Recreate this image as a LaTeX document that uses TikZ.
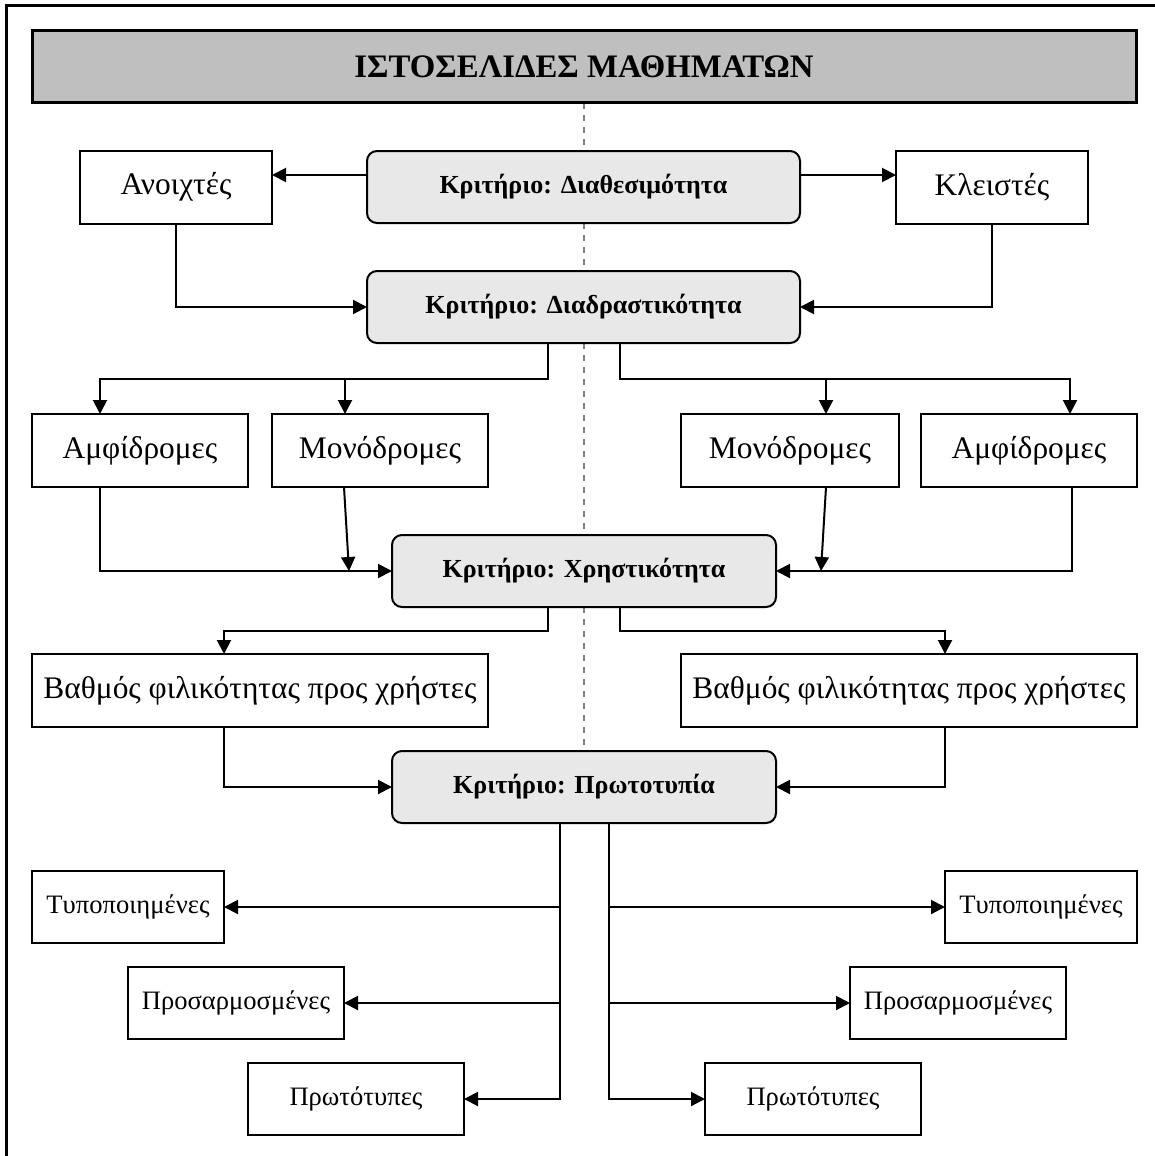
\documentclass[tikz,border=0pt]{standalone}
\usepackage{fontspec}
\setmainfont{Liberation Serif}
\usetikzlibrary{arrows.meta,backgrounds}

\begin{document}
\begin{tikzpicture}[x=0.5pt, y=-0.5pt,
  every node/.style={align=center, inner sep=0pt, outer sep=0pt, line width=1pt},
  title/.style={draw, line width=1.5pt, fill=black!25, minimum width=552pt, minimum height=36pt, font=\fontsize{16.4}{19}\selectfont\bfseries},
  crit/.style={draw, fill=black!9, rounded corners=5pt, minimum height=36pt, font=\fontsize{13}{15}\selectfont\bfseries},
  leaf/.style={draw, fill=white, minimum height=36.5pt, font=\fontsize{15.7}{18}\selectfont},
  minor/.style={draw, fill=white, minimum height=36pt, font=\fontsize{13.3}{15}\selectfont},
  arr/.style={-{Triangle[length=7pt,width=7pt]}, line width=1pt},
  guide/.style={gray, line width=0.75pt, dash pattern=on 3pt off 3pt}]
\useasboundingbox (0,0) rectangle (1155,1156);
\draw[line width=1.5pt] (6,1170) -- (6,6) -- (1170,6);

\node[title] (web) at (584,67) {ΙΣΤΟΣΕΛΙΔΕΣ ΜΑΘΗΜΑΤΩΝ};

\node[crit, minimum width=216.5pt] (avail) at (583.5,187) {Κριτήριο: Διαθεσιμότητα};
\node[leaf, minimum width=96pt] (open) at (176,187) {Ανοιχτές};
\node[leaf, minimum width=96pt] (closed) at (992,187) {Κλειστές};

\node[crit, minimum width=216.5pt] (inter) at (583.5,307) {Κριτήριο: Διαδραστικότητα};
\node[leaf, minimum width=108pt] (twoL) at (140,450.5) {Αμφίδρομες};
\node[leaf, minimum width=108pt] (oneL) at (380,450.5) {Μονόδρομες};
\node[leaf, minimum width=109pt] (oneR) at (790,450.5) {Μονόδρομες};
\node[leaf, minimum width=108pt] (twoR) at (1029,450.5) {Αμφίδρομες};

\node[crit, minimum width=192pt] (usab) at (584,571) {Κριτήριο: Χρηστικότητα};
\node[leaf, minimum width=228pt] (friendL) at (260,690.5) {Βαθμός φιλικότητας προς χρήστες};
\node[leaf, minimum width=228pt] (friendR) at (909,690.5) {Βαθμός φιλικότητας προς χρήστες};

\node[crit, minimum width=192pt] (orig) at (584,787) {Κριτήριο: Πρωτοτυπία};
\node[minor, minimum width=96pt] (stdL) at (128,907) {Τυποποιημένες};
\node[minor, minimum width=108pt] (adaL) at (236,1003) {Προσαρμοσμένες};
\node[minor, minimum width=108pt] (newL) at (356,1099) {Πρωτότυπες};
\node[minor, minimum width=96pt] (stdR) at (1041,907) {Τυποποιημένες};
\node[minor, minimum width=108pt] (adaR) at (958,1003) {Προσαρμοσμένες};
\node[minor, minimum width=108pt] (newR) at (813,1099) {Πρωτότυπες};

\begin{scope}[on background layer]
\draw[guide] (web.south) -- (orig.north);
\end{scope}

% availability
\draw[arr] (avail.west |- 0,175) -- (open.east |- 0,175);
\draw[arr] (avail.east |- 0,175) -- (closed.west |- 0,175);
\draw[arr] (open.south) |- (inter.west);
\draw[arr] (closed.south) |- (inter.east);

% interactivity
\draw[arr] (inter.south -| 548,0) |- (100,379) -- (twoL.north -| 100,0);
\draw[arr] (345,379) -- (oneL.north -| 345,0);
\draw[arr] (inter.south -| 620,0) |- (1070,379) -- (twoR.north -| 1070,0);
\draw[arr] (826,379) -- (oneR.north -| 826,0);
\draw[arr] (twoL.south -| 100,0) |- (usab.west);
\draw[arr] (oneL.south -| 344,0) -- (349,571);
\draw[arr] (twoR.south -| 1072,0) |- (usab.east);
\draw[arr] (oneR.south -| 826,0) -- (821,571);

% usability
\draw[arr] (usab.south -| 548,0) |- (224,631) -- (friendL.north -| 224,0);
\draw[arr] (usab.south -| 620,0) |- (945,631) -- (friendR.north -| 945,0);
\draw[arr] (friendL.south -| 224,0) |- (orig.west);
\draw[arr] (friendR.south -| 945,0) |- (orig.east);

% originality
\draw[arr] (orig.south -| 560,0) |- (newL.east);
\draw[arr] (560,907) -- (stdL.east);
\draw[arr] (560,1003) -- (adaL.east);
\draw[arr] (orig.south -| 609,0) |- (newR.west);
\draw[arr] (609,907) -- (stdR.west);
\draw[arr] (609,1003) -- (adaR.west);
\end{tikzpicture}
\end{document}
